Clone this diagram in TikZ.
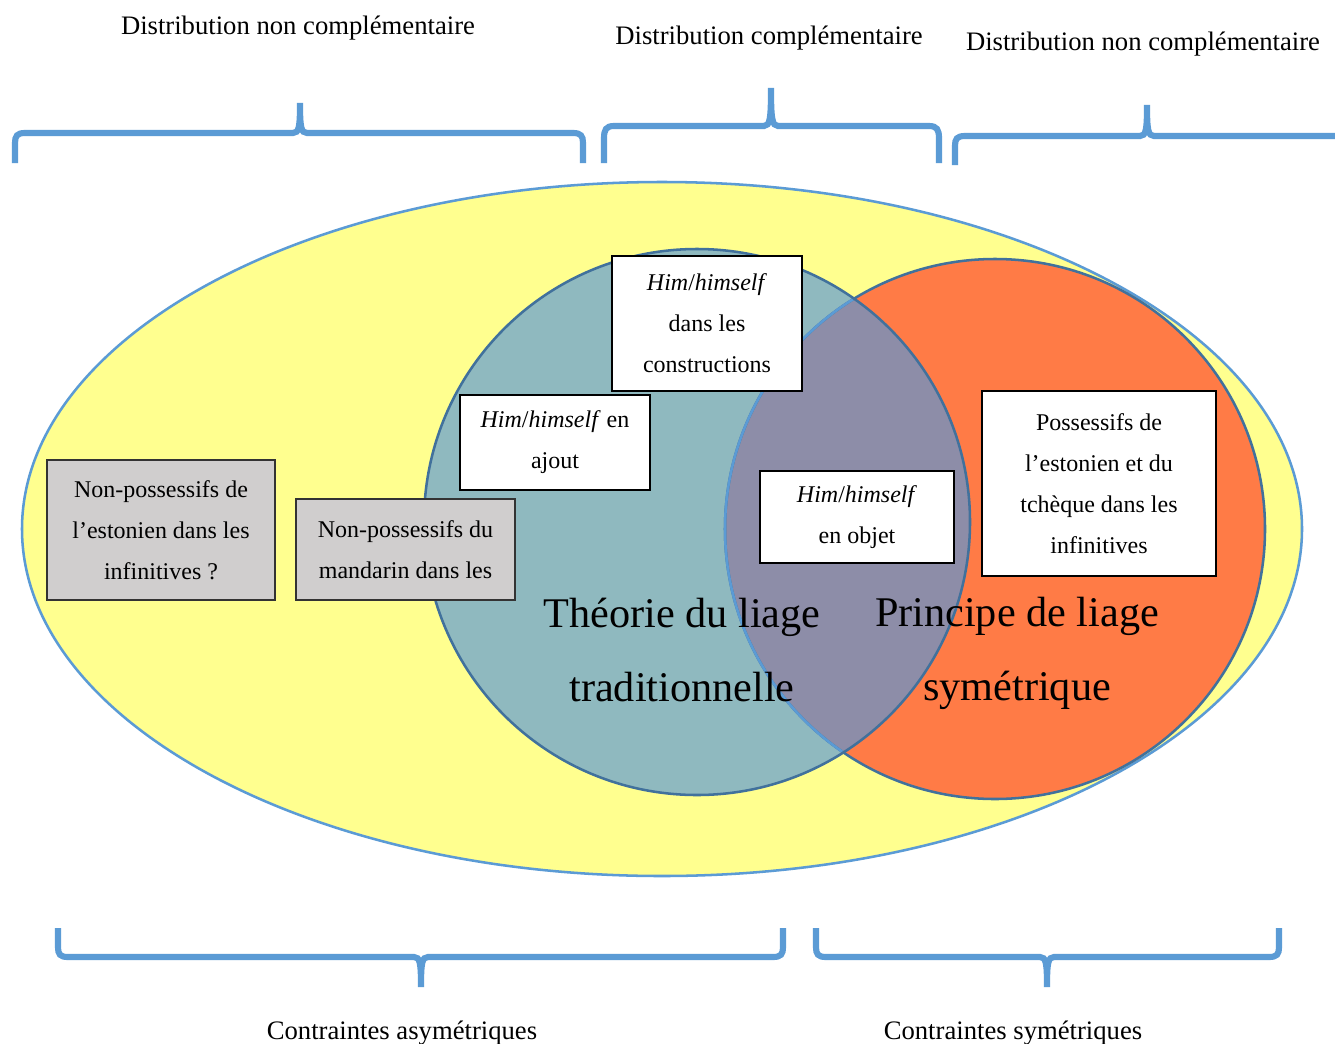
\documentclass[tikz,border=0pt]{standalone}
\usepackage{fontspec}
\setmainfont{Liberation Serif}
\definecolor{venyellow}{RGB}{255,255,143}
\definecolor{venteal}{RGB}{143,185,191}
\definecolor{venorange}{RGB}{255,123,70}
\definecolor{venoverlap}{RGB}{141,141,168}
\definecolor{lightblue}{RGB}{91,155,213}
\definecolor{darkblue}{RGB}{65,113,156}
\definecolor{boxgrey}{RGB}{208,206,206}
\newcommand{\curlybracket}[6]{%
\draw[brace] (#1,#6) -- (#1,{#4+(#6-#4)/3})
  .. controls (#1,{#4+(#6-#4)/10}) and ({#1+2},#4) .. ({#1+10},#4)
  -- ({#3-7},#4) .. controls ({#3-1},#4) and (#3,{#4+(#5-#4)/5}) .. (#3,#5)
  .. controls (#3,{#4+(#5-#4)/5}) and ({#3+1},#4) .. ({#3+7},#4)
  -- ({#2-10},#4) .. controls ({#2-2},#4) and (#2,{#4+(#6-#4)/10}) .. (#2,{#4+(#6-#4)/3})
  -- (#2,#6);}

\begin{document}
\begin{tikzpicture}[x=0.75pt,y=-0.75pt,
  brace/.style={draw=lightblue,line width=4.6pt},
  textbox/.style={draw=black,line width=1.1pt,fill=white,align=center,inner sep=0pt,
    font=\fontsize{18}{30.75}\selectfont},
  greybox/.style={textbox,fill=boxgrey,draw=black!80},
  toplabel/.style={font=\fontsize{20}{24}\selectfont},
  biglabel/.style={align=center,font=\fontsize{31.7}{55.5}\selectfont}]
\useasboundingbox (0,0) rectangle (1335,1043);
\fill[white] (0,0) rectangle (1335,1043);

\curlybracket{15}{583}{300}{133}{103}{163}
\curlybracket{604}{939}{771}{126}{88}{163}
\curlybracket{955}{1345}{1147}{136}{105}{165}
\curlybracket{58}{783}{421}{957}{987}{928}
\curlybracket{816}{1279}{1047}{957}{987}{928}

\draw[fill=venyellow,draw=lightblue,line width=1.9pt] (662,529) ellipse [x radius=640,y radius=347];
\fill[venteal] (697,522) circle [radius=273];
\fill[venorange] (995,529) circle [radius=270];
\begin{scope}
\clip (697,522) circle [radius=273];
\fill[venoverlap] (995,529) circle [radius=270];
\end{scope}
\draw[darkblue,line width=1.9pt] (995,529) circle [radius=270];
\begin{scope}
\clip (697,522) circle [radius=273];
\draw[lightblue,line width=1.9pt] (995,529) circle [radius=270];
\end{scope}
\draw[darkblue,line width=1.9pt] (697,522) circle [radius=273];

\node[toplabel] (distnonleft) at (298,28) {Distribution non complémentaire};
\node[toplabel] (distcompl) at (769,38) {Distribution complémentaire};
\node[toplabel] (distnonright) at (1143,44) {Distribution non complémentaire};
\node[toplabel] (asym) at (402,1033) {Contraintes asymétriques};
\node[toplabel] (sym) at (1013,1033) {Contraintes symétriques};

\node[greybox,minimum width=171pt,minimum height=105pt] (estnonposs) at (161,530)
  {Non-possessifs de\\l’estonien dans les\\infinitives ?};
\node[greybox,minimum width=164.25pt,minimum height=75.75pt] (mandarin) at (405.5,549.5)
  {Non-possessifs du\\mandarin dans les};
\node[textbox,minimum width=142.5pt,minimum height=71.25pt] (ajout) at (555,442.5)
  {\textit{Him}/\textit{himself} en\\ajout};
\node[textbox,minimum width=142.5pt,minimum height=101.25pt] (constr) at (707,323.5)
  {\textit{Him}/\textit{himself}\\dans les\\constructions};
\node[textbox,minimum width=145.5pt,minimum height=69pt] (objet) at (857,517)
  {\textit{Him}/\textit{himself}\\en objet};
\node[textbox,minimum width=175.5pt,minimum height=138.75pt] (possessifs) at (1099,483.5)
  {Possessifs de\\l’estonien et du\\tchèque dans les\\infinitives};

\node[biglabel] (theorie) at (682,650) {Théorie du liage\\traditionnelle};
\node[biglabel] (principe) at (1017,653) {Principe de liage\\symétrique};
\end{tikzpicture}
\end{document}
